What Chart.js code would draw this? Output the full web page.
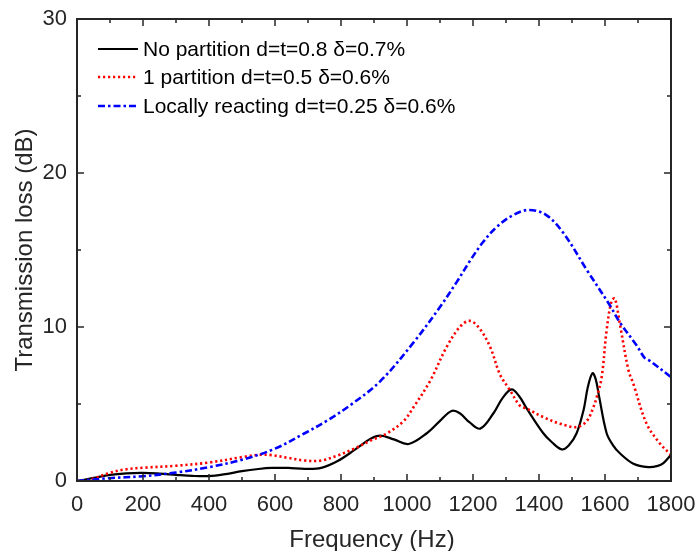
<!DOCTYPE html>
<html>
<head>
<meta charset="utf-8">
<script src="https://cdn.jsdelivr.net/npm/chart.js@4.4.1/dist/chart.umd.min.js"></script>
<style>
html,body{margin:0;padding:0;background:#fff;}
#wrap{width:698px;height:551px;}
</style>
</head>
<body>
<div id="wrap"><canvas id="c" width="698" height="551"></canvas></div>
<script>
// ---- data ----
const seriesLabels = [
  "No partition d=t=0.8 δ=0.7%",
  "1 partition d=t=0.5 δ=0.6%",
  "Locally reacting d=t=0.25 δ=0.6%"
];
const xTitle = "Frequency (Hz)";
const yTitle = "Transmission loss (dB)";
const xTicks = [0,200,400,600,800,1000,1200,1400,1600,1800];
const yTicks = [0,10,20,30];

const freqNoPartition = [0,50,100,150,200,250,300,350,400,450,500,550,590,640,690,740,790,840,890,920,960,1005,1060,1100,1135,1160,1190,1222,1262,1290,1317,1340,1363,1413,1440,1469,1490,1514,1535,1548,1562,1572,1582,1605,1625,1645,1686,1731,1760,1777,1800];
const tlNoPartition   = [0,0.2,0.4,0.5,0.53,0.48,0.4,0.33,0.32,0.45,0.64,0.78,0.85,0.85,0.79,0.85,1.3,2.0,2.75,2.95,2.7,2.4,3.1,3.9,4.55,4.4,3.8,3.4,4.4,5.4,5.95,5.5,4.7,3.1,2.5,2.05,2.3,3.1,4.6,6.1,7.0,6.6,5.5,3.1,2.3,1.8,1.12,0.9,0.98,1.16,1.7];

const freqOnePartition = [0,30,55,95,145,200,300,400,500,550,590,640,690,740,790,840,890,940,990,1020,1070,1120,1160,1190,1220,1252,1282,1312,1342,1363,1413,1464,1514,1545,1565,1575,1590,1605,1620,1630,1645,1671,1686,1726,1767,1800];
const tlOnePartition   = [0,0.05,0.2,0.5,0.75,0.86,0.99,1.2,1.55,1.7,1.68,1.5,1.33,1.33,1.66,2.1,2.63,3.1,3.9,4.8,6.5,8.7,10.0,10.4,9.9,8.7,6.9,5.9,4.9,4.7,4.15,3.72,3.5,3.9,4.8,5.45,6.75,9.8,11.7,11.85,10.2,7.2,6.3,3.72,2.42,1.7];

const freqLocal = [0,95,200,300,400,500,600,690,760,830,920,1020,1100,1150,1191,1230,1272,1320,1368,1420,1474,1545,1615,1645,1696,1720,1736,1800];
const tlLocal   = [0,0.18,0.31,0.55,0.9,1.38,2.1,3.1,3.95,4.95,6.5,9.0,11.3,12.9,14.3,15.5,16.5,17.25,17.6,17.3,16.1,13.7,11.4,10.3,8.8,8.0,7.8,6.75];

// ---- styles ----
const FONT = "'Liberation Sans', Arial, Helvetica, sans-serif";
const AXIS_COLOR = "#262626";
const styles = [
  {color:"#000000", width:2.2, dash:[]},
  {color:"#ff0000", width:2.6, dash:[2.2,2.8]},
  {color:"#0000ff", width:2.6, dash:[7,3,2.5,3]}
];

function pts(xs, ys){ return xs.map((x,i)=>({x:x, y:ys[i]})); }
const seriesData = [pts(freqNoPartition,tlNoPartition), pts(freqOnePartition,tlOnePartition), pts(freqLocal,tlLocal)];

const datasets = seriesData.map((d,i)=>({
  label: seriesLabels[i],
  data: d,
  borderColor: styles[i].color,
  borderWidth: styles[i].width,
  borderDash: styles[i].dash,
  pointRadius: 0,
  fill: false,
  tension: 0.35,
  order: 3 - i
}));

const framePlugin = {
  id: 'frame',
  afterDraw(chart){
    const ctx = chart.ctx, a = chart.chartArea;
    const xs = chart.scales.x, ys = chart.scales.y;
    ctx.save();
    ctx.strokeStyle = AXIS_COLOR;
    ctx.lineWidth = 2;
    ctx.strokeRect(a.left, a.top, a.right - a.left, a.bottom - a.top);
    ctx.lineWidth = 1.5;
    ctx.beginPath();
    for (let v = 0; v <= 1800; v += 100){
      const px = xs.getPixelForValue(v);
      const len = (v % 200 === 0) ? 7 : 4;
      ctx.moveTo(px, a.bottom); ctx.lineTo(px, a.bottom - len);
      ctx.moveTo(px, a.top); ctx.lineTo(px, a.top + len);
    }
    for (let v = 0; v <= 30; v += 5){
      const py = ys.getPixelForValue(v);
      const len = (v % 10 === 0) ? 7 : 4;
      ctx.moveTo(a.left, py); ctx.lineTo(a.left + len, py);
      ctx.moveTo(a.right, py); ctx.lineTo(a.right - len, py);
    }
    ctx.stroke();

    // axis titles
    ctx.fillStyle = AXIS_COLOR;
    ctx.font = "24px " + FONT;
    ctx.textAlign = 'center';
    ctx.textBaseline = 'alphabetic';
    ctx.fillText(xTitle, (a.left + a.right) / 2 - 2, 547);
    ctx.save();
    ctx.translate(32, (a.top + a.bottom) / 2);
    ctx.rotate(-Math.PI / 2);
    ctx.fillText(yTitle, 0, 0);
    ctx.restore();

    // legend
    ctx.font = "21px " + FONT;
    ctx.textAlign = 'left';
    ctx.textBaseline = 'middle';
    const rows = [49, 77, 106];
    chart.data.datasets.forEach((ds, i) => {
      const y = rows[i];
      ctx.save();
      ctx.strokeStyle = ds.borderColor;
      ctx.lineWidth = ds.borderWidth;
      ctx.setLineDash(ds.borderDash);
      ctx.beginPath();
      ctx.moveTo(98, y); ctx.lineTo(138, y);
      ctx.stroke();
      ctx.restore();
      ctx.fillStyle = "#000";
      ctx.fillText(ds.label, 143, y + 1);
    });
    ctx.restore();
  }
};

new Chart(document.getElementById('c'), {
  type: 'line',
  data: { datasets },
  options: {
    responsive: false,
    devicePixelRatio: 1,
    animation: false,
    layout: { padding: { top: 19, right: 27, left: 0, bottom: 0 } },
    plugins: { legend: { display: false }, tooltip: { enabled: false } },
    scales: {
      x: {
        type: 'linear', min: 0, max: 1800,
        afterFit(s){ s.height = 70; s.paddingLeft = 0; s.paddingRight = 0; },
        afterBuildTicks(s){ s.ticks = xTicks.map(v => ({value: v})); },
        grid: { display: false, drawTicks: false },
        border: { display: false },
        ticks: { color: AXIS_COLOR, font: { size: 22, family: FONT }, padding: 11, maxRotation: 0, autoSkip: false,
                 callback: v => String(v) }
      },
      y: {
        type: 'linear', min: 0, max: 30,
        afterFit(s){ s.width = 77; s.paddingTop = 0; s.paddingBottom = 0; },
        afterBuildTicks(s){ s.ticks = yTicks.map(v => ({value: v})); },
        grid: { display: false, drawTicks: false },
        border: { display: false },
        ticks: { color: AXIS_COLOR, font: { size: 22, family: FONT }, padding: 10, callback: v => String(v) }
      }
    }
  },
  plugins: [framePlugin]
});
</script>
</body>
</html>
